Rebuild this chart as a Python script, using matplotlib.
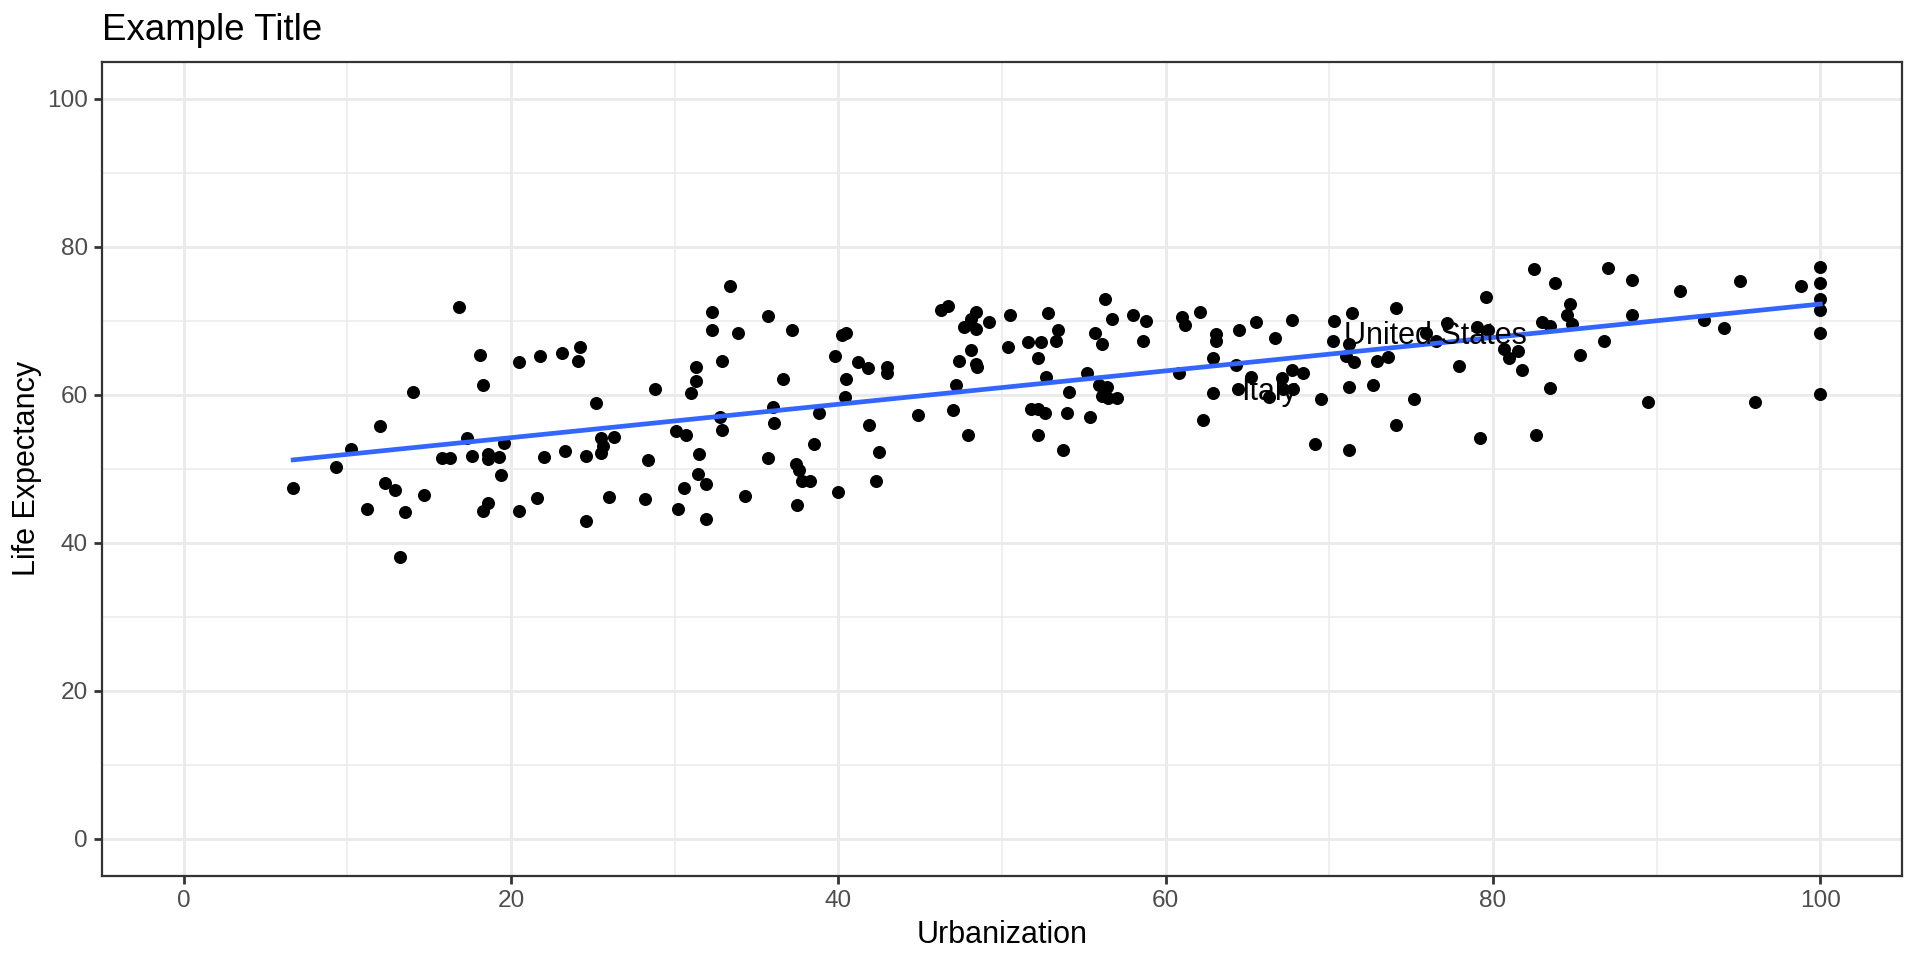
import matplotlib
matplotlib.use('Agg')
import matplotlib.pyplot as plt
import numpy as np

# ------------------------------------------------------------
# data
# ------------------------------------------------------------
urban = [16.8, 18.1, 18.3, 20.5, 21.8, 23.1, 24.2, 24.1, 14.0, 12.0, 10.2, 9.3, 6.7,
         17.3, 19.6, 15.8, 16.3, 17.6, 18.6, 18.6, 19.3, 19.4, 22.0, 23.3, 12.3, 12.9,
         14.7, 11.2, 13.5, 18.6, 18.3, 20.5, 21.6, 13.2,
         25.2, 24.6, 25.5, 25.6, 25.5, 26.3, 26.0, 24.6, 28.8, 28.4, 28.2, 33.4, 32.3,
         32.3, 33.9, 35.7, 37.2, 32.9, 31.3, 31.3, 31.0, 30.1, 30.7, 32.8, 32.9, 31.5,
         31.4, 31.9, 30.6, 30.2, 31.9, 34.3, 36.0, 36.1, 36.6, 35.7, 37.4, 37.6, 37.8,
         38.3, 37.5, 38.5, 38.8, 39.8, 40.2, 40.5, 40.5, 40.4, 40.0, 41.2, 41.8, 41.9,
         43.0, 43.0, 42.5, 42.3,
         46.3, 46.7, 48.4, 48.1, 47.7, 48.4, 49.2, 50.5, 52.8, 53.4, 53.3, 51.6, 52.4,
         52.2, 50.4, 48.1, 47.4, 48.4, 48.5, 47.2, 47.0, 44.9, 47.9, 56.3, 56.7, 55.7,
         56.1, 58.0, 58.8, 58.6, 55.2, 52.7, 54.1, 55.9, 56.4, 56.1, 56.5, 57.0, 51.8,
         52.2, 52.6, 54.0, 55.4, 52.2, 53.7, 61.0, 61.2, 62.1, 63.1, 63.1, 62.9, 60.8,
         62.9, 62.3,
         64.5, 65.5, 66.7, 67.7, 64.3, 65.2, 64.4, 66.3, 67.1, 67.7, 67.8, 68.4, 67.2,
         69.5, 69.1, 70.3, 70.2, 71.4, 71.2, 75.9, 76.5, 71.0, 71.5, 71.2, 71.2, 72.9,
         73.6, 72.7, 74.1, 74.1, 75.2, 77.2, 77.9, 79.0, 79.7, 79.6, 79.2, 80.7, 81.0,
         81.5, 81.8, 82.5, 82.6,
         83.8, 87.0, 88.5, 84.7, 84.5, 84.8, 83.0, 83.5, 88.5, 86.8, 85.3, 83.5, 89.5,
         91.4, 92.9, 94.1, 95.1, 96.0, 98.8, 100, 100, 100, 100, 100, 100]
life = [71.8, 65.4, 61.3, 64.4, 65.3, 65.7, 66.4, 64.5, 60.4, 55.8, 52.7, 50.3, 47.4,
        54.1, 53.5, 51.5, 51.4, 51.7, 52.0, 51.3, 51.6, 49.2, 51.6, 52.4, 48.1, 47.1,
        46.5, 44.6, 44.2, 45.4, 44.3, 44.3, 46.0, 38.1,
        58.9, 51.7, 54.2, 53.1, 52.1, 54.3, 46.2, 43.0, 60.8, 51.2, 45.9, 74.7, 71.2,
        68.7, 68.4, 70.6, 68.7, 64.6, 63.7, 61.9, 60.3, 55.1, 54.6, 57.0, 55.3, 52.0,
        49.3, 47.9, 47.4, 44.6, 43.2, 46.3, 58.3, 56.2, 62.1, 51.5, 50.7, 49.9, 48.3,
        48.4, 45.1, 53.3, 57.5, 65.2, 68.1, 68.3, 62.1, 59.7, 46.8, 64.4, 63.6, 55.9,
        63.7, 62.9, 52.3, 48.3,
        71.4, 72.0, 71.2, 70.3, 69.1, 68.9, 69.8, 70.8, 71.1, 68.7, 67.3, 67.1, 67.1,
        65.0, 66.5, 66.0, 64.6, 64.1, 63.8, 61.3, 57.9, 57.2, 54.6, 73.0, 70.3, 68.4,
        66.8, 70.8, 70.0, 67.2, 63.0, 62.4, 60.4, 61.3, 61.1, 59.8, 59.5, 59.6, 58.1,
        58.1, 57.5, 57.5, 57.0, 54.6, 52.5, 70.5, 69.4, 71.2, 68.2, 67.2, 64.9, 63.0,
        60.3, 56.6,
        68.7, 69.8, 67.7, 70.1, 64.0, 62.4, 60.8, 59.7, 62.3, 63.4, 60.8, 63.0, 60.8,
        59.4, 53.3, 70.0, 67.2, 71.0, 66.9, 68.3, 67.2, 65.2, 64.4, 61.1, 52.5, 64.5,
        65.1, 61.3, 71.7, 55.9, 59.4, 69.7, 63.9, 69.2, 68.8, 73.2, 54.1, 66.2, 64.9,
        65.9, 63.3, 77.0, 54.5,
        75.1, 77.1, 75.5, 72.3, 70.8, 69.6, 69.8, 69.3, 70.8, 67.3, 65.4, 60.9, 59.0,
        74.0, 70.1, 69.0, 75.4, 59.0, 74.7, 77.3, 75.1, 72.9, 71.4, 68.3, 60.1]

label_names = ['United States', 'Italy']
label_x = [76.5, 66.3]
label_y = [67.9, 60.4]

# ------------------------------------------------------------
# figure (ggplot theme_bw look)
# ------------------------------------------------------------
plt.rcParams['font.family'] = ['Liberation Sans', 'DejaVu Sans']
fig = plt.figure(figsize=(9.6, 4.8), dpi=200)
ax = fig.add_axes([0.053, 0.0877, 0.9377, 0.848])

ax.set_xlim(-5, 105)
ax.set_ylim(-5, 105)
ax.set_xticks(np.arange(0, 101, 20))
ax.set_yticks(np.arange(0, 101, 20))
ax.set_xticks(np.arange(10, 100, 20), minor=True)
ax.set_yticks(np.arange(10, 100, 20), minor=True)
ax.grid(which='major', color='#EBEBEB', lw=1.07)
ax.grid(which='minor', color='#EBEBEB', lw=0.55)
ax.set_axisbelow(True)
ax.tick_params(which='major', length=2.75, width=1.0, color='#333333',
               labelsize=8.8, labelcolor='#4D4D4D', pad=2.2)
ax.tick_params(which='minor', length=0)
for s in ax.spines.values():
    s.set_color('#333333')
    s.set_linewidth(0.8)

ax.scatter(urban, life, s=22, color='black', linewidths=0, zorder=3)

# lm fit, like geom_smooth(method='lm', se=FALSE)
b, a = np.polyfit(urban, life, 1)
xx = np.array([min(urban), max(urban)])
ax.plot(xx, a + b * xx, color='#3366FF', lw=1.7, zorder=4)

for name, lx, ly in zip(label_names, label_x, label_y):
    ax.text(lx, ly, name, fontsize=11, ha='center', va='center', color='black', zorder=5)

ax.set_xlabel('Urbanization', fontsize=11, labelpad=3)
ax.set_ylabel('Life Expectancy', fontsize=11, labelpad=2)
fig.text(102 / 1920, 1 - 40 / 960, 'Example Title', fontsize=13.2, ha='left', va='baseline')

fig.savefig('out.png', dpi=200)
